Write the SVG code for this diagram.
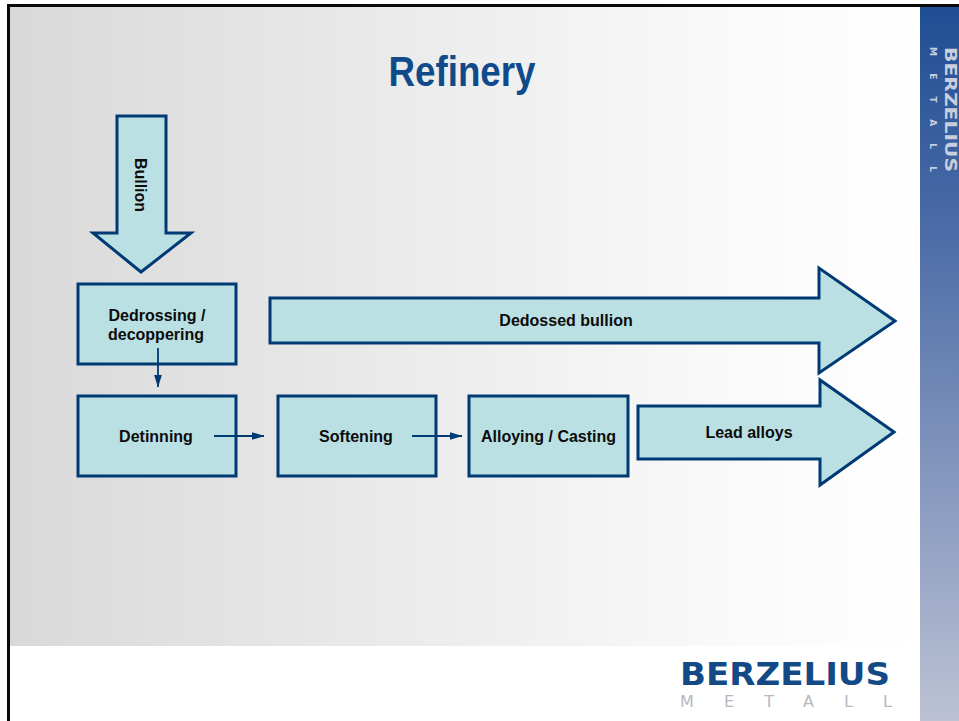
<svg xmlns="http://www.w3.org/2000/svg" width="959" height="721" viewBox="0 0 959 721">
<defs>
<linearGradient id="bg" x1="0" y1="0" x2="1" y2="0"><stop offset="0" stop-color="#d9d9d9"/><stop offset="0.8" stop-color="#fafafa"/><stop offset="1" stop-color="#ffffff"/></linearGradient>
<linearGradient id="side" x1="0" y1="0" x2="0" y2="1"><stop offset="0" stop-color="#1f4e94"/><stop offset="0.3" stop-color="#4a6aa6"/><stop offset="1" stop-color="#bcc2d4"/></linearGradient>
<marker id="ah" markerWidth="13" markerHeight="8" refX="12.5" refY="4" orient="auto" markerUnits="userSpaceOnUse"><path d="M0 0L13 4L0 8z" fill="#003a75"/></marker>
<style>
.n{fill:#bbe0e3;stroke:#003a75;stroke-width:3}
.t{font-family:"Liberation Sans",Arial,sans-serif;font-size:16px;font-weight:700;fill:#0c0c0c;text-anchor:middle}
.c{stroke:#003a75;stroke-width:1.8;fill:none;marker-end:url(#ah)}
</style>
</defs>
<rect width="959" height="721" fill="#fff"/>
<rect x="9" y="6" width="911" height="640" fill="url(#bg)"/>
<rect x="920" y="6" width="39" height="715" fill="url(#side)"/>
<rect x="7" y="4" width="952" height="3" fill="#0a0a0a"/>
<rect x="7" y="4" width="3" height="717" fill="#0a0a0a"/>
<text x="462" y="86" font-family="Liberation Sans,Arial,sans-serif" font-size="42" font-weight="700" fill="#0f4a8a" text-anchor="middle" textLength="147" lengthAdjust="spacingAndGlyphs">Refinery</text>
<g id="side-logo" font-family="DejaVu Sans,sans-serif" font-weight="700" fill="#c9cede">
<text transform="translate(945,47) rotate(90)" font-size="16" textLength="125" lengthAdjust="spacingAndGlyphs">BERZELIUS</text>
<text transform="translate(930,47) rotate(90)" font-size="9" textLength="125">METALL</text>
</g>
<g id="bullion"><path class="n" d="M117 116H166V233H191L141 272L93 233H117Z"/><text class="t" transform="translate(135,185) rotate(90)">Bullion</text></g>
<g id="dedrossing"><rect class="n" x="78" y="284" width="158" height="80"/><text class="t" x="157" y="321">Dedrossing /</text><text class="t" x="156" y="340">decoppering</text></g>
<g id="dedrossed"><path class="n" d="M270 298H819V268L895 321L819 373V343H270Z"/><text class="t" x="566" y="326">Dedossed bullion</text></g>
<g id="detinning"><rect class="n" x="78" y="396" width="158" height="80"/><text class="t" x="156" y="442">Detinning</text></g>
<g id="softening"><rect class="n" x="278" y="396" width="158" height="80"/><text class="t" x="356" y="442">Softening</text></g>
<g id="alloying"><rect class="n" x="469" y="396" width="159" height="80"/><text class="t" x="548.500" y="442">Alloying / Casting</text></g>
<g id="lead"><path class="n" d="M638 406H820V380L894 432L820 485V459H638Z"/><text class="t" x="749" y="438">Lead alloys</text></g>
<g id="connectors">
<line class="c" x1="158" y1="348" x2="158" y2="387"/>
<line class="c" x1="214" y1="436" x2="264" y2="436"/>
<line class="c" x1="412" y1="436" x2="462" y2="436"/>
</g>
<g id="logo">
<text x="680" y="685" font-family="DejaVu Sans,sans-serif" font-size="32" font-weight="700" fill="#134a86" textLength="210" lengthAdjust="spacingAndGlyphs">BERZELIUS</text>
<text x="680" y="707" font-family="DejaVu Sans,sans-serif" font-size="16" fill="#b5b8bd" textLength="212">METALL</text>
</g>
</svg>
